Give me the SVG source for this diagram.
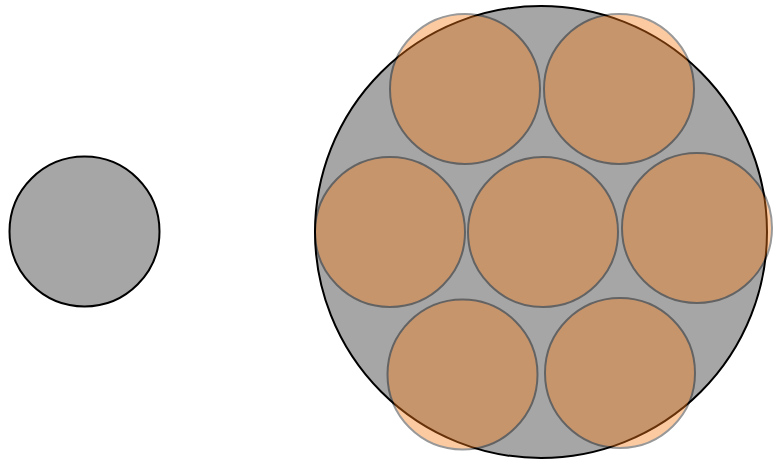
<svg xmlns="http://www.w3.org/2000/svg" width="774" height="463" viewBox="0 0 774 463">
<style>
.base{fill:#a6a6a6;stroke:#000;stroke-width:2}
.disk{fill:#fa7c16;stroke:#000;stroke-width:2;opacity:0.4}
</style>
<rect width="774" height="463" fill="#fff"/>
<g id="small-circle"><circle class="base" cx="84.5" cy="231.5" r="75"/></g>
<g id="big-circle"><circle class="base" cx="541" cy="232" r="226"/></g>
<g id="disks">
<g id="disk-top-left"><circle class="disk" cx="465" cy="89" r="75"/></g>
<g id="disk-top-right"><circle class="disk" cx="619" cy="89" r="75"/></g>
<g id="disk-mid-left"><circle class="disk" cx="390" cy="232" r="75"/></g>
<g id="disk-mid-center"><circle class="disk" cx="543" cy="232" r="75"/></g>
<g id="disk-mid-right"><circle class="disk" cx="697" cy="228" r="75"/></g>
<g id="disk-bottom-left"><circle class="disk" cx="462.5" cy="374.5" r="75"/></g>
<g id="disk-bottom-right"><circle class="disk" cx="620" cy="373" r="75"/></g>
</g>
</svg>
